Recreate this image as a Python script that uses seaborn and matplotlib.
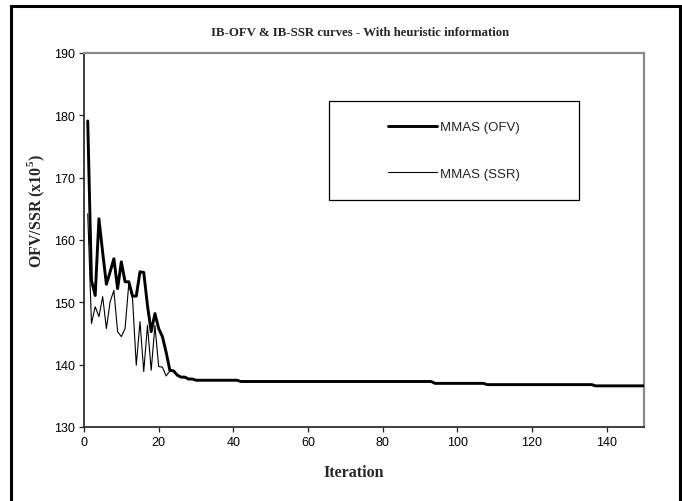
import numpy as np
import pandas as pd
import matplotlib
matplotlib.use("Agg")
import matplotlib.pyplot as plt
from matplotlib.patches import Rectangle
import seaborn as sns

# ---- data ----
title = "IB-OFV & IB-SSR curves - With heuristic information"
x_label = "Iteration"
y_label = r"OFV/SSR (x10$^{\mathbf{5}}$)"
series_names = ["MMAS (OFV)", "MMAS (SSR)"]

iterations = list(range(1, 151))

ofv = [
    179.1, 153.5, 151.1, 163.4, 158.0, 152.9, 154.9, 157.0, 152.2, 156.5,
    153.3, 153.3, 151.0, 151.0, 154.9, 154.8, 149.5, 145.3, 148.2, 145.8,
    144.5, 142.0, 139.1, 139.0, 138.3, 138.0, 138.0, 137.7, 137.7, 137.5,
    137.5, 137.5, 137.5, 137.5, 137.5, 137.5, 137.5, 137.5, 137.5, 137.5,
    137.5, 137.3, 137.3, 137.3, 137.3, 137.3, 137.3, 137.3, 137.3, 137.3,
    137.3, 137.3, 137.3, 137.3, 137.3, 137.3, 137.3, 137.3, 137.3, 137.3,
    137.3, 137.3, 137.3, 137.3, 137.3, 137.3, 137.3, 137.3, 137.3, 137.3,
    137.3, 137.3, 137.3, 137.3, 137.3, 137.3, 137.3, 137.3, 137.3, 137.3,
    137.3, 137.3, 137.3, 137.3, 137.3, 137.3, 137.3, 137.3, 137.3, 137.3,
    137.3, 137.3, 137.3, 137.0, 137.0, 137.0, 137.0, 137.0, 137.0, 137.0,
    137.0, 137.0, 137.0, 137.0, 137.0, 137.0, 137.0, 136.8, 136.8, 136.8,
    136.8, 136.8, 136.8, 136.8, 136.8, 136.8, 136.8, 136.8, 136.8, 136.8,
    136.8, 136.8, 136.8, 136.8, 136.8, 136.8, 136.8, 136.8, 136.8, 136.8,
    136.8, 136.8, 136.8, 136.8, 136.8, 136.8, 136.6, 136.6, 136.6, 136.6,
    136.6, 136.6, 136.6, 136.6, 136.6, 136.6, 136.6, 136.6, 136.6, 136.6,
]

ssr = [
    164.2, 146.6, 149.3, 147.7, 150.9, 145.8, 150.1, 151.9, 145.3, 144.5,
    145.8, 153.0, 150.6, 139.9, 146.9, 138.9, 146.3, 139.1, 146.3, 139.7,
    139.6, 138.2, 139.0, 139.0, 138.3, 138.0, 138.0, 137.7, 137.7, 137.5,
    137.5, 137.5, 137.5, 137.5, 137.5, 137.5, 137.5, 137.5, 137.5, 137.5,
    137.5, 137.3, 137.3, 137.3, 137.3, 137.3, 137.3, 137.3, 137.3, 137.3,
    137.3, 137.3, 137.3, 137.3, 137.3, 137.3, 137.3, 137.3, 137.3, 137.3,
    137.3, 137.3, 137.3, 137.3, 137.3, 137.3, 137.3, 137.3, 137.3, 137.3,
    137.3, 137.3, 137.3, 137.3, 137.3, 137.3, 137.3, 137.3, 137.3, 137.3,
    137.3, 137.3, 137.3, 137.3, 137.3, 137.3, 137.3, 137.3, 137.3, 137.3,
    137.3, 137.3, 137.3, 137.0, 137.0, 137.0, 137.0, 137.0, 137.0, 137.0,
    137.0, 137.0, 137.0, 137.0, 137.0, 137.0, 137.0, 136.8, 136.8, 136.8,
    136.8, 136.8, 136.8, 136.8, 136.8, 136.8, 136.8, 136.8, 136.8, 136.8,
    136.8, 136.8, 136.8, 136.8, 136.8, 136.8, 136.8, 136.8, 136.8, 136.8,
    136.8, 136.8, 136.8, 136.8, 136.8, 136.8, 136.6, 136.6, 136.6, 136.6,
    136.6, 136.6, 136.6, 136.6, 136.6, 136.6, 136.6, 136.6, 136.6, 136.6,
]

x_ticks = [0, 20, 40, 60, 80, 100, 120, 140]
y_ticks = [130, 140, 150, 160, 170, 180, 190]

# ---- style ----
sns.set_style("white")
plt.rcParams["font.family"] = ["Liberation Sans", "DejaVu Sans"]
plt.rcParams["mathtext.fontset"] = "custom"
plt.rcParams["mathtext.rm"] = "Liberation Serif"
plt.rcParams["mathtext.bf"] = "Liberation Serif:bold"

W, H = 682, 502
fig = plt.figure(figsize=(W / 100, H / 100), dpi=100)
fig.patch.set_facecolor("white")

L, R, T, B = 84, 644, 54, 428
ax = fig.add_axes([L / W, 1 - B / H, (R - L) / W, (B - T) / H])

df_ofv = pd.DataFrame({"iter": iterations, "val": ofv})
df_ssr = pd.DataFrame({"iter": iterations, "val": ssr})

sns.lineplot(data=df_ssr, x="iter", y="val", ax=ax, color="black",
             linewidth=0.8, label=series_names[1], zorder=2)
sns.lineplot(data=df_ofv, x="iter", y="val", ax=ax, color="black",
             linewidth=2.1, label=series_names[0], zorder=3)

ax.set_xlim(0, 150)
ax.set_ylim(130, 190)
ax.set_xticks(x_ticks)
ax.set_yticks(y_ticks)
ax.tick_params(axis="both", direction="out", length=3.5, width=0.9,
               colors="#202020", labelsize=9, pad=3, bottom=True, left=True)
for lab in ax.get_xticklabels() + ax.get_yticklabels():
    lab.set_color("black")

for side in ["left", "bottom"]:
    ax.spines[side].set_color("#303030")
    ax.spines[side].set_linewidth(1.3)
for side in ["top", "right"]:
    ax.spines[side].set_color("#8a8a8a")
    ax.spines[side].set_linewidth(1.6)

ax.set_xlabel(x_label, fontfamily="Liberation Serif", fontweight="bold",
              fontsize=11.5)
ax.set_ylabel(y_label, fontfamily="Liberation Serif", fontweight="bold",
              fontsize=11.5)
ax.xaxis.set_label_coords(0.482, -0.10)
ax.yaxis.set_label_coords(-0.066, 0.58)

fig.text(360 / W, 1 - 33 / H, title, ha="center", va="center",
         fontfamily="Liberation Serif", fontweight="bold", fontsize=9.2)

# legend (content) + its frame
handles, labels = ax.get_legend_handles_labels()
order = [labels.index(series_names[0]), labels.index(series_names[1])]
leg = ax.legend([handles[i] for i in order], [labels[i] for i in order],
                loc="center", bbox_to_anchor=(454 / W, 1 - 151.5 / H),
                bbox_transform=fig.transFigure, frameon=False,
                fontsize=9.5, handlelength=3.7, handletextpad=0.25,
                labelspacing=2.6, borderpad=0)
fig.add_artist(Rectangle((329 / W, 1 - 201 / H), 250 / W, 99 / H,
                         transform=fig.transFigure, fill=False,
                         edgecolor="black", linewidth=0.9))

# outer frame around the whole figure
fig.add_artist(Rectangle((11 / W, -0.02), (680 - 11) / W, 1 - 7 / H + 0.02,
                         transform=fig.transFigure, fill=False,
                         edgecolor="black", linewidth=2.2))

fig.savefig("out.png", dpi=100)
